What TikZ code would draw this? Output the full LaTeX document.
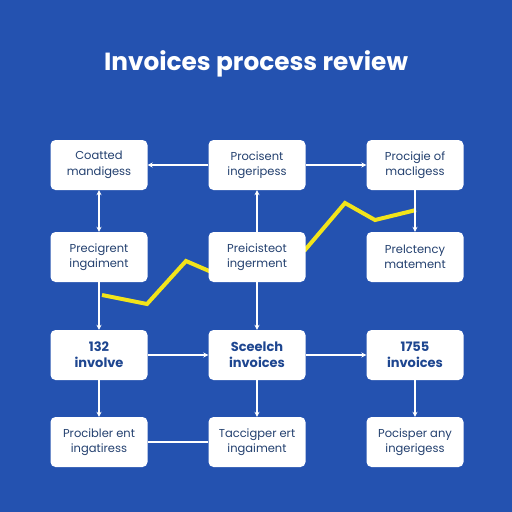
\documentclass[tikz,border=0pt]{standalone}
\usepackage{fontspec}
\setmainfont{Poppins}
\usetikzlibrary{arrows.meta}
\definecolor{bgblue}{HTML}{2452B0}
\definecolor{txtnavy}{HTML}{23406F}
\definecolor{txtbold}{HTML}{1E4690}
\definecolor{ylw}{HTML}{F2E41A}
\tikzset{
  box/.style={rectangle, rounded corners=5pt, fill=white, minimum width=97pt, minimum height=50pt, align=center, text=txtnavy, font=\fontsize{11.5}{15.5}\selectfont, inner sep=2pt},
  boldbox/.style={box, text=txtbold, font=\fontsize{13}{16}\selectfont\bfseries},
  conn/.style={draw=white, line width=1.1pt, -{Stealth[length=5pt,width=5pt]}},
  plain/.style={draw=white, line width=1.1pt},
}
\begin{document}
\begin{tikzpicture}[x=1pt,y=-1pt]
\fill[bgblue] (0,0) rectangle (512,512);
\useasboundingbox (0,0) rectangle (512,512);
\node[text=white, font=\fontsize{24.8}{28}\selectfont\bfseries] (title) at (256,64) {Invoices process review};
% yellow trend line (behind boxes)
\coordinate (y1) at (102,295);
\coordinate (y2) at (147,304);
\coordinate (y3) at (186,261);
\coordinate (y4) at (230,280);
\coordinate (y5) at (305,250);
\coordinate (y6) at (345,203);
\coordinate (y7) at (375,220);
\coordinate (y8) at (416,210);
\draw[ylw, line width=4pt, line join=miter] (y1) -- (y2) -- (y3) -- (y4) -- (y5) -- (y6) -- (y7) -- (y8);
% boxes
\node[box] (b11) at (99,165) {Coatted\\mandigess};
\node[box] (b12) at (257,165) {Procisent\\ingeripess};
\node[box] (b13) at (415,165) {Procigie of\\macligess};
\node[box] (b21) at (99,257) {Precigrent\\ingaiment};
\node[box] (b22) at (257,257) {Preicisteot\\ingerment};
\node[box] (b23) at (415,257) {Prelctency\\matement};
\node[boldbox] (b31) at (99,355) {132\\involve};
\node[boldbox] (b32) at (257,355) {Sceelch\\invoices};
\node[boldbox] (b33) at (415,355) {1755\\invoices};
\node[box] (b41) at (99,442) {Procibler ent\\ingatiress};
\node[box] (b42) at (257,442) {Taccigper ert\\ingaiment};
\node[box] (b43) at (415,442) {Pocisper any\\ingerigess};
% connectors
\draw[conn] (b12.west) -- (b11.east);
\draw[conn] (b12.east) -- (b13.west);
\draw[conn, {Stealth[length=5pt,width=5pt]}-{Stealth[length=5pt,width=5pt]}] (b11.south) -- (b21.north);
\draw[conn] (b22.north) -- (b12.south);
\draw[conn] (b13.south) -- (b23.north);
\draw[conn] (b21.south) -- (b31.north);
\draw[conn] (b22.south) -- (b32.north);
\draw[conn] (b31.east) -- (b32.west);
\draw[conn] (b32.east) -- (b33.west);
\draw[conn] (b31.south) -- (b41.north);
\draw[conn] (b32.south) -- (b42.north);
\draw[conn] (b33.south) -- (b43.north);
\draw[plain] (b41.east) -- (b42.west);
\end{tikzpicture}
\end{document}
